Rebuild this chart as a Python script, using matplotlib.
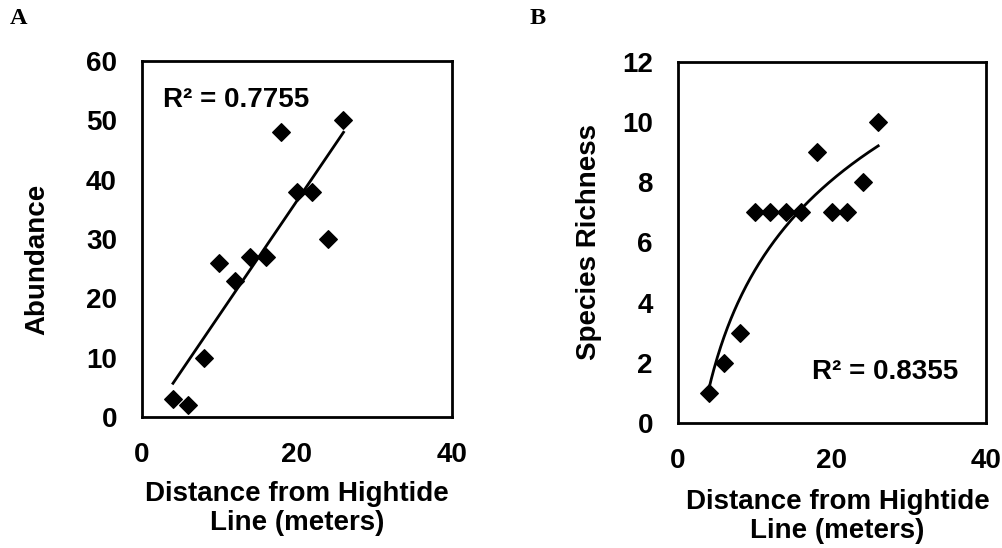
import numpy as np
import matplotlib
matplotlib.use('Agg')
import matplotlib.pyplot as plt

# distance from hightide line (m)
distance = [4, 6, 8, 10, 12, 14, 16, 18, 20, 22, 24, 26]
abundance = [3, 2, 10, 26, 23, 27, 27, 48, 38, 38, 30, 50]
richness = [1, 2, 3, 7, 7, 7, 7, 9, 7, 7, 8, 10]
r2_abund = 'R² = 0.7755'
r2_rich = 'R² = 0.8355'
xlab = 'Distance from Hightide\nLine (meters)'

plt.rcParams['font.family'] = ['Liberation Sans', 'DejaVu Sans']
plt.rcParams['font.weight'] = 'bold'
fs = 20

fig = plt.figure(figsize=(10.03, 5.48), dpi=100)
axA = fig.add_axes([142/1003, 1-417/548, 310/1003, 356/548])
axB = fig.add_axes([678/1003, 1-423/548, 308/1003, 361/548])

x = np.array(distance)

def style(ax, ymax, ystep):
    ax.set_xlim(0, 40)
    ax.set_ylim(0, ymax)
    ax.set_xticks([0, 20, 40])
    ax.set_yticks(np.arange(0, ymax + 1, ystep))
    ax.tick_params(length=0, labelsize=fs)
    ax.tick_params(axis='y', pad=18)
    ax.tick_params(axis='x', pad=18)
    for s in ax.spines.values():
        s.set_linewidth(2)
    for lab in ax.get_xticklabels() + ax.get_yticklabels():
        lab.set_fontweight('bold')

# panel A - linear trend
axA.scatter(distance, abundance, marker='D', s=80, color='black', zorder=3)
k, b = np.polyfit(x, abundance, 1)
axA.plot([x.min(), x.max()], [k*x.min()+b, k*x.max()+b], color='black', lw=2)
style(axA, 60, 10)
axA.text(2.7, 53.5, r2_abund, fontsize=fs, fontweight='bold', va='center')
axA.set_ylabel('Abundance', fontsize=fs, fontweight='bold')
axA.yaxis.set_label_coords(-0.297, 0.444)
axA.set_xlabel(xlab, fontsize=fs, fontweight='bold', linespacing=1.15)
axA.xaxis.set_label_coords(0.5, -0.18)

# panel B - log trend
axB.scatter(distance, richness, marker='D', s=80, color='black', zorder=3)
a, c = np.polyfit(np.log(x), richness, 1)
xs = np.linspace(x.min(), x.max(), 200)
axB.plot(xs, a*np.log(xs)+c, color='black', lw=2)
style(axB, 12, 2)
axB.text(17.4, 1.7, r2_rich, fontsize=fs, fontweight='bold', va='center')
axB.set_ylabel('Species Richness', fontsize=fs, fontweight='bold')
axB.yaxis.set_label_coords(-0.247, 0.5)
axB.set_xlabel(xlab, fontsize=fs, fontweight='bold', linespacing=1.15)
axB.xaxis.set_label_coords(0.518, -0.183)

fig.text(10/1003, 1-19/548, 'A', fontsize=17.5, fontweight='bold',
         family=['Liberation Serif', 'DejaVu Serif'], va='center')
fig.text(530/1003, 1-19/548, 'B', fontsize=17.5, fontweight='bold',
         family=['Liberation Serif', 'DejaVu Serif'], va='center')

fig.savefig('out.png', dpi=100)
